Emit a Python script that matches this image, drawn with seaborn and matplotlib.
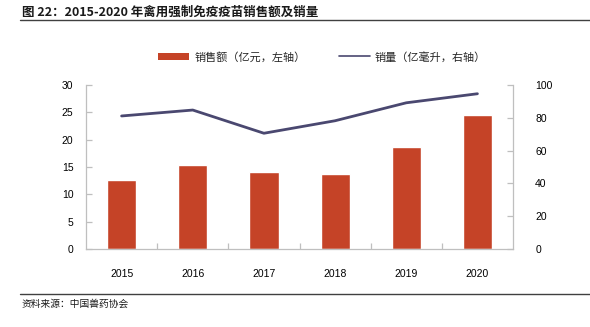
import matplotlib
matplotlib.use("Agg")
import matplotlib.pyplot as plt
import seaborn as sns
import pandas as pd
from matplotlib.lines import Line2D
from matplotlib.patches import Patch

years = ["2015", "2016", "2017", "2018", "2019", "2020"]
sales = [12.7, 15.3, 14.1, 13.7, 18.6, 24.4]       # 销售额（亿元）
volume = [81.0, 84.6, 70.5, 78.1, 89.0, 94.5]      # 销量（亿毫升）
left_ticks = [0, 5, 10, 15, 20, 25, 30]
right_ticks = [0, 20, 40, 60, 80, 100]

title = "图 22：2015-2020 年禽用强制免疫疫苗销售额及销量"
source = "资料来源：中国兽药协会"
bar_label = "销售额（亿元，左轴）"
line_label = "销量（亿毫升，右轴）"

sns.set_theme(style="white")
plt.rcParams["font.family"] = ["Liberation Sans", "Noto Sans CJK SC", "DejaVu Sans"]

BAR_C = "#C54327"
LINE_C = "#4A4870"
SPINE_C = "#BFBFBF"
CJK = ["Noto Sans CJK SC", "DejaVu Sans"]

df = pd.DataFrame({"year": years, "sales": sales, "volume": volume})

fig = plt.figure(figsize=(5.9, 3.27), dpi=100)
ax = fig.add_axes([0.1458, 0.2376, 0.7237, 0.5034])

sns.barplot(data=df, x="year", y="sales", color=BAR_C, width=0.41,
            saturation=1, ax=ax)
ax.set_ylim(0, 30)
ax.set_yticks(left_ticks)
ax.set_xlim(-0.5, len(years) - 0.5)
ax.set_xlabel("")
ax.set_ylabel("")

ax2 = ax.twinx()
sns.lineplot(x=list(range(len(years))), y=volume, color=LINE_C, linewidth=2.0,
             ax=ax2)
ax2.set_ylim(0, 100)
ax2.set_yticks(right_ticks)
ax2.set_xlim(-0.5, len(years) - 0.5)

for a in (ax, ax2):
    for s in a.spines.values():
        s.set_visible(False)
ax.spines["left"].set_visible(True)
ax.spines["bottom"].set_visible(True)
ax2.spines["right"].set_visible(True)
for s in (ax.spines["left"], ax.spines["bottom"], ax2.spines["right"]):
    s.set_color(SPINE_C)
    s.set_linewidth(0.9)

# category boundary ticks on the x axis
ax.set_xticks(range(len(years)))
ax.set_xticklabels(years)
ax.set_xticks([i + 0.5 for i in range(len(years) - 1)], minor=True)
ax.tick_params(axis="x", which="major", length=0, pad=14, labelsize=7.5,
               colors="#000000")
ax.tick_params(axis="x", which="minor", direction="in", length=4,
               color=SPINE_C, width=0.9, bottom=True)
ax.tick_params(axis="y", direction="in", length=4, color=SPINE_C, width=0.9,
               pad=9, labelsize=7.5, left=True, labelcolor="#000000")
ax2.tick_params(axis="y", direction="in", length=4, color=SPINE_C, width=0.9,
                pad=16, labelsize=7.5, right=True, labelcolor="#000000")
ax.grid(False)
ax2.grid(False)

handles = [Patch(facecolor=BAR_C, edgecolor="none"),
           Line2D([0], [0], color=LINE_C, linewidth=1.2)]
fig.legend(handles, [bar_label, line_label], loc="center left",
           bbox_to_anchor=(0.268, 0.826), ncol=2, frameon=False,
           prop={"family": CJK, "size": 8}, handlelength=2.8,
           handleheight=0.7, columnspacing=3.0, handletextpad=0.45,
           borderpad=0, borderaxespad=0)

fig.text(0.037, 0.963, title, ha="left", va="center", fontsize=9,
         fontweight="bold", family=CJK, color="#1a1a1a")
fig.add_artist(Line2D([0.034, 1.0], [0.939, 0.939], color="#404040",
                      linewidth=1.0, transform=fig.transFigure))
fig.add_artist(Line2D([0.034, 1.0], [0.101, 0.101], color="#404040",
                      linewidth=1.0, transform=fig.transFigure))
fig.text(0.037, 0.07, source, ha="left", va="center", fontsize=7,
         family=CJK, color="#1a1a1a")

fig.savefig("out.png", dpi=100)
